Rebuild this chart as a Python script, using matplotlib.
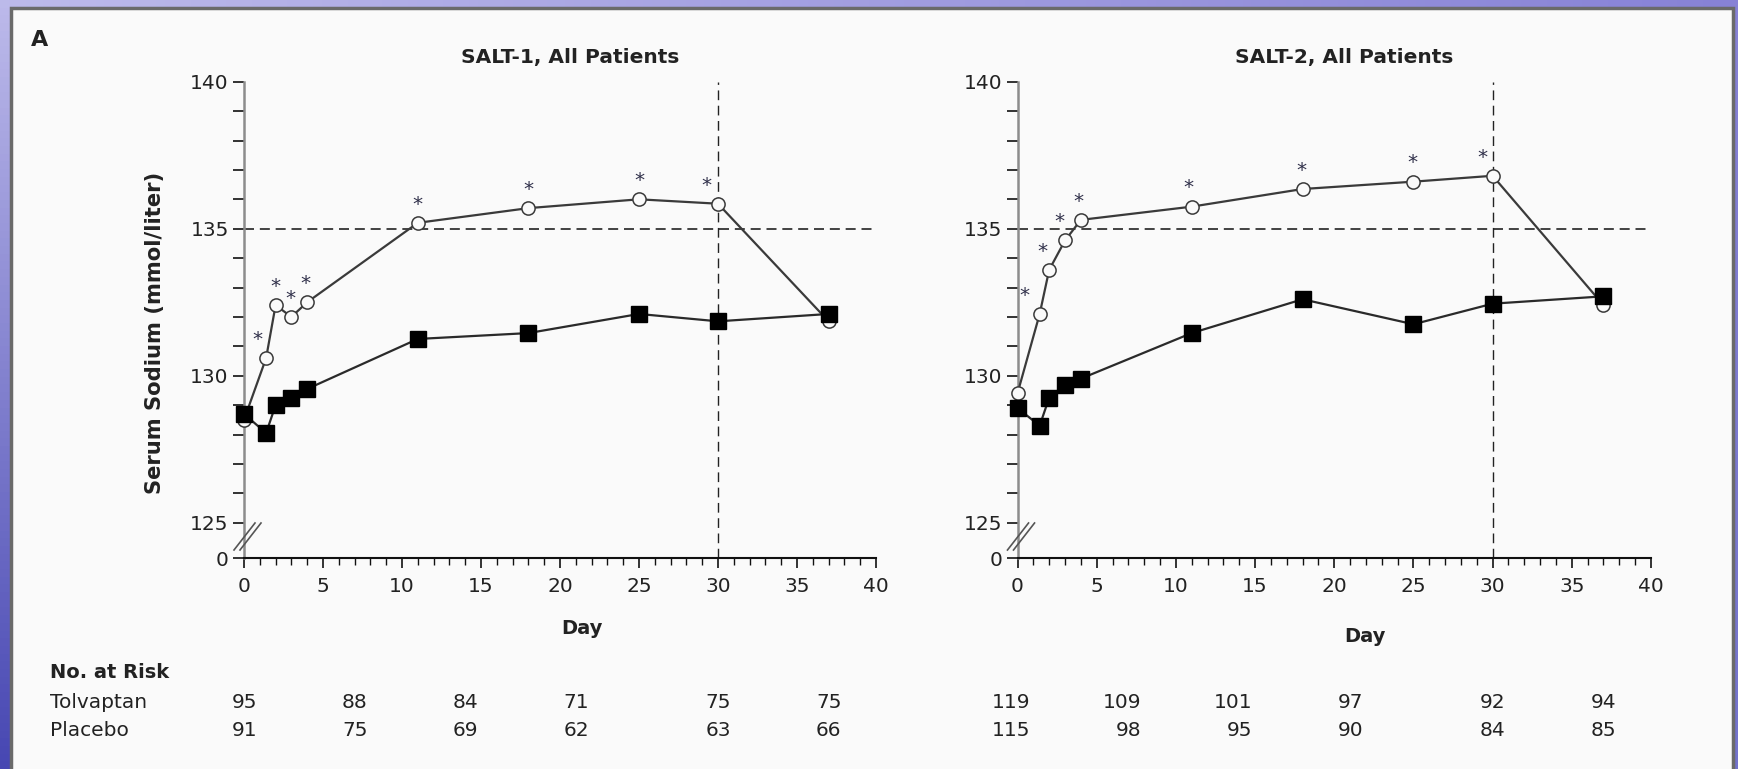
import numpy as np
import matplotlib.pyplot as plt
from matplotlib import transforms
from matplotlib.patches import Rectangle

# Study days with measurements
days = [0, 1.4, 2, 3, 4, 11, 18, 25, 30, 37]

# Serum sodium (mmol/liter)
salt1_tolvaptan = [128.5, 130.6, 132.4, 132.0, 132.5, 135.2, 135.7, 136.0, 135.85, 131.85]
salt1_placebo = [128.7, 128.05, 129.0, 129.25, 129.55, 131.25, 131.45, 132.1, 131.85, 132.1]
salt2_tolvaptan = [129.4, 132.1, 133.6, 134.6, 135.3, 135.75, 136.35, 136.6, 136.8, 132.4]
salt2_placebo = [128.9, 128.3, 129.25, 129.7, 129.9, 131.45, 132.6, 131.75, 132.45, 132.7]

# Days flagged as significant (asterisk above tolvaptan)
star_days = [1.4, 2, 3, 4, 11, 18, 25, 30]

# No. at risk table
risk_days = [0, 7, 14, 21, 30, 37]
salt1_risk_tolvaptan = [95, 88, 84, 71, 75, 75]
salt1_risk_placebo = [91, 75, 69, 62, 63, 66]
salt2_risk_tolvaptan = [119, 109, 101, 97, 92, 94]
salt2_risk_placebo = [115, 98, 95, 90, 84, 85]

W, H = 1738, 769
plt.rcParams['font.family'] = 'DejaVu Sans'

fig = plt.figure(figsize=(W / 100, H / 100), dpi=100)

# Slide-like blue background with a white panel
bg = fig.add_axes([0, 0, 1, 1], zorder=-10)
yy, xx = np.mgrid[0:1:100j, 0:1:200j]
top_left = np.array([0.74, 0.73, 0.92])
top_right = np.array([0.53, 0.51, 0.84])
bot_left = np.array([0.28, 0.28, 0.70])
bot_right = np.array([0.45, 0.45, 0.80])
img = ((1 - xx)[..., None] * (1 - yy)[..., None] * top_left
       + xx[..., None] * (1 - yy)[..., None] * top_right
       + (1 - xx)[..., None] * yy[..., None] * bot_left
       + xx[..., None] * yy[..., None] * bot_right)
bg.imshow(img, extent=[0, 1, 0, 1], aspect='auto', origin='upper')
bg.add_patch(Rectangle((11 / W, -0.02), 1722 / W, 1.02 - 8 / H,
                       facecolor='#fafafa', edgecolor='#6a6a6a', lw=2.5))
bg.set_xlim(0, 1)
bg.set_ylim(0, 1)
bg.axis('off')

y_bottom = 123.8  # where the broken axis shows "0"


def draw_panel(ax, tolv, plac, star_dx):
    ax.set_facecolor('none')
    ax.plot(days, tolv, color='#3a3a3a', lw=1.6, marker='o', ms=9.5,
            mfc='#fafafa', mec='#3a3a3a', mew=1.1, clip_on=False, zorder=3)
    ax.plot(days, plac, color='#2a2a2a', lw=1.6, marker='s', ms=11,
            mfc='black', mec='black', clip_on=False, zorder=4)

    # reference lines
    ax.plot([0, 40], [135, 135], color='#222222', lw=1.2, dashes=(6, 3.5), zorder=2, clip_on=False)
    ax.plot([30, 30], [y_bottom, 140], color='#222222', lw=1.0, dashes=(7, 4), zorder=2, clip_on=False)

    # asterisks
    for d, dx in zip(star_days, star_dx):
        y = tolv[days.index(d)]
        ax.annotate('*', (d, y), xytext=(dx, 9.5), textcoords='offset points',
                    ha='center', va='baseline', fontsize=14.5, color='#30304a')

    ax.set_xlim(0, 40)
    ax.set_ylim(y_bottom, 140)
    ax.set_xticks(range(0, 41, 5))
    ax.set_xticks(range(0, 41), minor=True)
    ax.set_yticks([y_bottom, 125, 130, 135, 140], labels=['0', '125', '130', '135', '140'])
    ax.set_yticks([v for v in range(126, 140) if v % 5], minor=True)
    ax.tick_params(axis='x', which='major', length=7, width=1.2, pad=7, labelsize=14.5, color='#111111')
    ax.tick_params(axis='x', which='minor', length=5, width=1.0, color='#111111')
    ax.tick_params(axis='y', which='both', length=8, width=1.3, pad=3, labelsize=14.5, color='#222222')
    for lab in ax.get_xticklabels() + ax.get_yticklabels():
        lab.set_color('#222222')

    for side in ['top', 'right']:
        ax.spines[side].set_visible(False)
    ax.spines['left'].set_color('#8c8c8c')
    ax.spines['left'].set_linewidth(1.8)
    ax.spines['bottom'].set_color('#111111')
    ax.spines['bottom'].set_linewidth(1.5)

    # axis break marks
    aw, ah = 632.0, 476.3
    for off in (0, 6):
        ax.plot([(-10 + off) / aw, (11 + off) / aw], [8 / ah, 35 / ah],
                transform=ax.transAxes, color='#555555', lw=1.2, clip_on=False, zorder=5)


ax_h = 476.3 / H
ax_y = (H - 558) / H
ax1 = fig.add_axes([244 / W, ax_y, 632 / W, ax_h])
ax2 = fig.add_axes([1017.5 / W, ax_y, 633.5 / W, ax_h])

draw_panel(ax1, salt1_tolvaptan, salt1_placebo, [-6, 0, -1, -1, 0, 0, 0, -8])
draw_panel(ax2, salt2_tolvaptan, salt2_placebo, [-11, -5, -4, -2, -2, -1, -1, -7])

# titles and labels
fig.text(570 / W, 1 - 57 / H, 'SALT-1, All Patients', ha='center', va='center',
         fontsize=14.5, fontweight='bold', color='#222222')
fig.text(1344 / W, 1 - 57 / H, 'SALT-2, All Patients', ha='center', va='center',
         fontsize=14.5, fontweight='bold', color='#222222')
fig.text(582 / W, 1 - 628 / H, 'Day', ha='center', va='center',
         fontsize=14, fontweight='bold', color='#222222')
fig.text(1365 / W, 1 - 637 / H, 'Day', ha='center', va='center',
         fontsize=14, fontweight='bold', color='#222222')
fig.text(155 / W, 1 - 333 / H, 'Serum Sodium (mmol/liter)', rotation=90,
         ha='center', va='center', fontsize=15.2, fontweight='bold', color='#222222')
fig.text(40 / W, 1 - 40 / H, 'A', ha='center', va='center',
         fontsize=16, fontweight='bold', color='#222222')

# No. at risk table
fig.text(50 / W, 1 - 672 / H, 'No. at Risk', ha='left', va='center',
         fontsize=14, fontweight='bold', color='#222222')
fig.text(50 / W, 1 - 702 / H, 'Tolvaptan', ha='left', va='center', fontsize=14.5, color='#222222')
fig.text(50 / W, 1 - 731 / H, 'Placebo', ha='left', va='center', fontsize=14.5, color='#222222')

for ax, tolv_n, plac_n in [(ax1, salt1_risk_tolvaptan, salt1_risk_placebo),
                           (ax2, salt2_risk_tolvaptan, salt2_risk_placebo)]:
    blend = transforms.blended_transform_factory(ax.transData, fig.transFigure)
    trans = transforms.offset_copy(blend, fig=fig, x=13, y=0, units='dots')
    for d, n_t, n_p in zip(risk_days, tolv_n, plac_n):
        fig.text(d, 1 - 702 / H, str(n_t), transform=trans, ha='right', va='center',
                 fontsize=14.5, color='#222222')
        fig.text(d, 1 - 731 / H, str(n_p), transform=trans, ha='right', va='center',
                 fontsize=14.5, color='#222222')

fig.savefig('out.png', dpi=100)
